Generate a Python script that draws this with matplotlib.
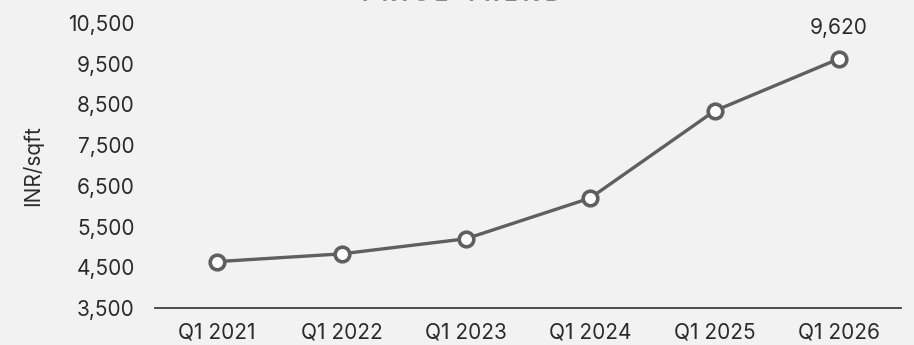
import matplotlib
matplotlib.use("Agg")
import matplotlib.pyplot as plt

# data
quarters = ["Q1 2021", "Q1 2022", "Q1 2023", "Q1 2024", "Q1 2025", "Q1 2026"]
price = [4640, 4830, 5200, 6200, 8340, 9620]
yticks = [3500, 4500, 5500, 6500, 7500, 8500, 9500, 10500]

bg = "#f2f2f2"
line_col = "#5f5f5f"
text_col = "#2b2b2b"

plt.rcParams["font.family"] = ["Inter", "DejaVu Sans"]

fig = plt.figure(figsize=(9.14, 3.45), dpi=100, facecolor=bg)
ax = fig.add_axes([0.1696, 0.1072, 0.8162, 0.8261], facecolor=bg)

x = range(len(quarters))
ax.plot(x, price, color=line_col, lw=2.4, marker="o", ms=10.5,
        mfc="white", mec=line_col, mew=2.6, zorder=3)

# label on the last point only
ax.annotate(f"{price[-1]:,}", (x[-1], price[-1]), xytext=(0, 15),
            textcoords="offset points", ha="center", va="bottom",
            fontsize=15, color=text_col)

ax.set_xlim(-0.5, len(quarters) - 0.5)
ax.set_ylim(yticks[0], yticks[-1])
ax.set_xticks(list(x))
ax.set_xticklabels(quarters)
ax.set_yticks(yticks)
ax.set_yticklabels([f"{v:,}" for v in yticks])
ax.tick_params(length=0, labelsize=15, colors=text_col, pad=10.5)
ax.tick_params(axis="y", pad=14.5)

for side in ["top", "right", "left"]:
    ax.spines[side].set_visible(False)
ax.spines["bottom"].set_color("#404040")
ax.spines["bottom"].set_linewidth(1.3)

ax.set_ylabel("INR/sqft", fontsize=15, color=text_col, labelpad=18)

# title sits mostly outside the canvas, like the reference
fig.text(0.505, 0.997, "P R I C E   T R E N D", ha="center", va="baseline",
         fontsize=16, fontweight="bold", color="#888888")

fig.savefig("out.png", dpi=100, facecolor=bg)
